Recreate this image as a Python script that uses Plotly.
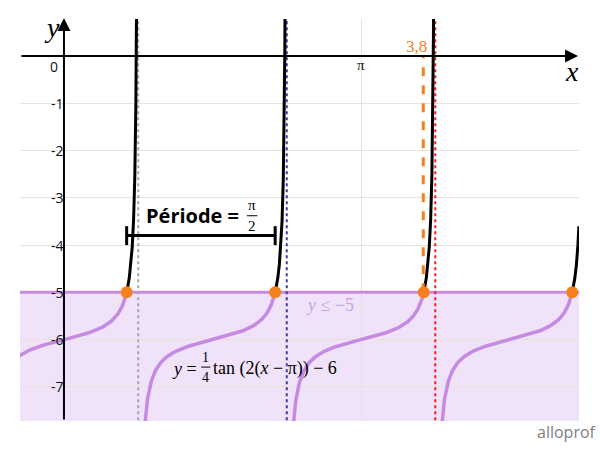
import numpy as np
import plotly.graph_objects as go

# Function y = A*tan(B*(x - H)) + K
A, B, H, K = 0.25, 2.0, np.pi, -6.0
Y_LIMIT = -5.0                 # inequality boundary y <= -5
BRANCHES = [-2, -1, 0, 1]      # tangent branches visible
ASYM_COLORS = ["#a8a8a8", "#3b3b9e", "#ff1a1a"]
X_MARK = 3.8                   # highlighted x value
X_MARK_LABEL = "3,8"
Y_TICKS = [0, -1, -2, -3, -4, -5, -6, -7]
Y_TICK_LABELS = ["0", "-1", "-2", "-3", "-4", "-5", "-6", "-7"]
X_RANGE = [-0.465, 5.447]
Y_RANGE = [-7.72, 0.78]
X_DOMAIN_MAX = 5.446           # curve drawn up to this x
PERIOD_Y = -3.8

BLACK = "#000000"
PURPLE = "#c58be3"
ORANGE = "#f7801e"
GRID = "#e6e2da"
SERIF = "Liberation Serif"
SANS = "Open Sans"


def branch(n, y_lo, y_hi, num=400):
    th = np.linspace(np.arctan((y_lo - K) / A), np.arctan((y_hi - K) / A), num)
    x = H + (th + n * np.pi) / B
    y = A * np.tan(th) + K
    keep = x <= X_DOMAIN_MAX
    return x[keep], y[keep]


fig = go.Figure()

# boundary line y = -5
fig.add_trace(go.Scatter(x=X_RANGE, y=[Y_LIMIT, Y_LIMIT], mode="lines",
                         line=dict(color=PURPLE, width=3), hoverinfo="skip"))

# asymptotes
for n, col in zip(BRANCHES[1:], ASYM_COLORS):
    xa = H + (np.pi / 2 + (n - 1) * np.pi) / B
    fig.add_trace(go.Scatter(x=[xa, xa], y=[Y_RANGE[0] - 1, Y_RANGE[1] + 1], mode="lines",
                             line=dict(color=col, width=2, dash="dot"), hoverinfo="skip"))

# curves
for n in BRANCHES:
    xp, yp = branch(n, Y_RANGE[0] - 0.2, Y_LIMIT)
    fig.add_trace(go.Scatter(x=xp, y=yp, mode="lines",
                             line=dict(color=PURPLE, width=3.5), hoverinfo="skip"))
    xb, yb = branch(n, Y_LIMIT, Y_RANGE[1] + 0.2)
    fig.add_trace(go.Scatter(x=xb, y=yb, mode="lines",
                             line=dict(color=BLACK, width=3), hoverinfo="skip"))

# orange dashed line at x = 3.8
fig.add_trace(go.Scatter(x=[X_MARK, X_MARK], y=[Y_LIMIT, 0], mode="lines",
                         line=dict(color=ORANGE, width=3, dash="dash"), hoverinfo="skip"))

# intersection points
x_int = [H + (np.arctan((Y_LIMIT - K) / A) + n * np.pi) / B for n in BRANCHES]
fig.add_trace(go.Scatter(x=x_int, y=[Y_LIMIT] * len(x_int), mode="markers",
                         marker=dict(color=ORANGE, size=12), hoverinfo="skip"))

# period bar
p0, p1 = x_int[0], x_int[1]
fig.add_trace(go.Scatter(
    x=[p0, p1, None, p0, p0, None, p1, p1],
    y=[PERIOD_Y, PERIOD_Y, None, PERIOD_Y - 0.2, PERIOD_Y + 0.2, None, PERIOD_Y - 0.2, PERIOD_Y + 0.2],
    mode="lines", line=dict(color=BLACK, width=3), hoverinfo="skip"))

# shaded region y <= -5
fig.add_shape(type="rect", xref="paper", x0=0, x1=1, yref="y", y0=Y_RANGE[0] - 1, y1=Y_LIMIT,
              fillcolor="rgba(197,139,227,0.25)", line=dict(width=0), layer="between")

ann = []
# axes with arrows
ann.append(dict(x=X_RANGE[1] - 0.01, y=0, ax=X_RANGE[0], ay=0, xref="x", yref="y", axref="x", ayref="y",
                text="", showarrow=True, arrowhead=2, arrowsize=1.3, arrowwidth=2, arrowcolor=BLACK))
ann.append(dict(x=0, y=Y_RANGE[1] + 0.02, ax=0, ay=Y_RANGE[0], xref="x", yref="y", axref="x", ayref="y",
                text="", showarrow=True, arrowhead=2, arrowsize=1.3, arrowwidth=2, arrowcolor=BLACK))

# y tick labels
for v, t in zip(Y_TICKS[1:], Y_TICK_LABELS[1:]):
    ann.append(dict(x=0.02, y=v, xref="x", yref="y", text=t, showarrow=False, xanchor="right",
                    yanchor="middle", font=dict(family=SANS, size=14, color="#111")))
ann.append(dict(x=-0.11, y=-0.22, xref="x", yref="y", text=Y_TICK_LABELS[0], showarrow=False,
                font=dict(family=SANS, size=14, color="#111")))
ann.append(dict(x=np.pi, y=-0.2, xref="x", yref="y", text="π", showarrow=False,
                font=dict(family=SERIF, size=15, color="#111")))

# axis titles
ann.append(dict(x=5.37, y=-0.34, xref="x", yref="y", text="<i>x</i>", showarrow=False,
                font=dict(family=SERIF, size=28, color=BLACK)))
ann.append(dict(x=-0.13, y=0.6, xref="x", yref="y", text="<i>y</i>", showarrow=False,
                font=dict(family=SERIF, size=28, color=BLACK)))

# 3,8 label
ann.append(dict(x=3.73, y=0.19, xref="x", yref="y", text=X_MARK_LABEL, showarrow=False,
                font=dict(family=SERIF, size=17, color=ORANGE)))

# period text
ann.append(dict(x=1.875, y=-3.37, xref="x", yref="y", text="<b>Période =</b>", showarrow=False,
                xanchor="right", font=dict(family=SANS, size=20, color=BLACK)))
ann.append(dict(x=1.99, y=-3.15, xref="x", yref="y", text="π", showarrow=False,
                font=dict(family=SERIF, size=15, color=BLACK)))
ann.append(dict(x=1.99, y=-3.6, xref="x", yref="y", text="2", showarrow=False,
                font=dict(family=SERIF, size=15, color=BLACK)))
fig.add_shape(type="line", x0=1.935, x1=2.045, y0=-3.38, y1=-3.38, xref="x", yref="y",
              line=dict(color=BLACK, width=1))

# inequality label
ann.append(dict(x=2.81, y=-5.27, xref="x", yref="y", text="<i>y</i> ≤ −5", showarrow=False,
                font=dict(family=SERIF, size=18, color="#c9a3e6")))

# equation label
ann.append(dict(x=1.43, y=-6.62, xref="x", yref="y", text="<i>y</i> =", showarrow=False,
                xanchor="right", font=dict(family=SERIF, size=18, color=BLACK)))
ann.append(dict(x=1.50, y=-6.37, xref="x", yref="y", text="1", showarrow=False,
                font=dict(family=SERIF, size=14, color=BLACK)))
ann.append(dict(x=1.50, y=-6.8, xref="x", yref="y", text="4", showarrow=False,
                font=dict(family=SERIF, size=14, color=BLACK)))
fig.add_shape(type="line", x0=1.452, x1=1.548, y0=-6.58, y1=-6.58, xref="x", yref="y",
              line=dict(color=BLACK, width=1))
ann.append(dict(x=1.56, y=-6.62, xref="x", yref="y", text="tan (2(<i>x</i> − π)) − 6", showarrow=False,
                xanchor="left", font=dict(family=SERIF, size=18, color=BLACK)))

# watermark
ann.append(dict(x=1.035, y=-0.06, xref="paper", yref="paper", text="alloprof", showarrow=False,
                xanchor="right", font=dict(family=SANS, size=16, color="#808080")))

fig.update_layout(
    width=600, height=470, autosize=False,
    margin=dict(l=20, r=21, t=19, b=49),
    paper_bgcolor="white", plot_bgcolor="white",
    showlegend=False,
    annotations=ann,
    xaxis=dict(range=X_RANGE, tickvals=[np.pi], showticklabels=False, showgrid=True,
               gridcolor=GRID, gridwidth=1, zeroline=False, showline=False, ticks=""),
    yaxis=dict(range=Y_RANGE, tickvals=Y_TICKS[1:], showticklabels=False, showgrid=True,
               gridcolor=GRID, gridwidth=1, zeroline=False, showline=False, ticks=""),
)

fig.write_html("out.html")
